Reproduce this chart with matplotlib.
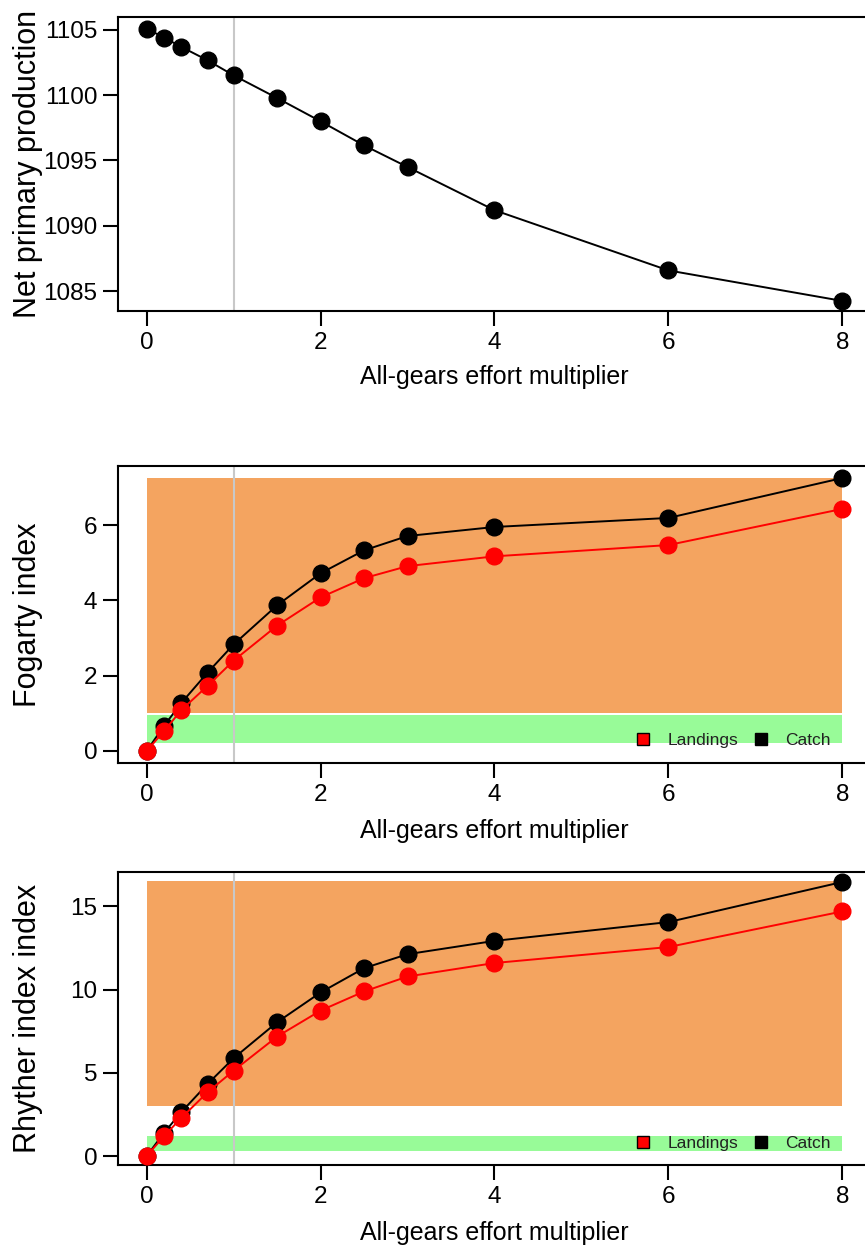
import matplotlib
matplotlib.use("Agg")
import matplotlib.pyplot as plt
from matplotlib.lines import Line2D

plt.rcParams["font.family"] = ["Liberation Sans", "DejaVu Sans"]

# effort multipliers
effort = [0, 0.2, 0.4, 0.7, 1.0, 1.5, 2, 2.5, 3, 4, 6, 8]

# panel 1 - net primary production
npp = [1105.07, 1104.39, 1103.67, 1102.65, 1101.5, 1099.77,
       1097.99, 1096.15, 1094.5, 1091.2, 1086.6, 1084.27]

# panel 2 - Fogarty index
fog_catch = [0, 0.67, 1.28, 2.08, 2.83, 3.87, 4.72, 5.33, 5.71, 5.95, 6.19, 7.25]
fog_land = [0, 0.53, 1.09, 1.73, 2.40, 3.33, 4.08, 4.59, 4.91, 5.17, 5.47, 6.43]
fog_green = (0.2, 0.95)
fog_orange = (1.0, 7.25)

# panel 3 - Rhyther index
ryt_catch = [0, 1.4, 2.65, 4.33, 5.88, 8.04, 9.83, 11.29, 12.13, 12.93, 14.06, 16.47]
ryt_land = [0, 1.2, 2.3, 3.83, 5.13, 7.18, 8.74, 9.89, 10.79, 11.6, 12.56, 14.7]
ryt_green = (0.3, 1.2)
ryt_orange = (3.0, 16.5)

xticks = [0, 2, 4, 6, 8]
baseline = 1.0

W, H = 865, 1245
fig = plt.figure(figsize=(W / 100, H / 100), dpi=100)


def make_axes(top, bottom):
    left, right = 118, 871
    return fig.add_axes([left / W, 1 - bottom / H, (right - left) / W, (bottom - top) / H])


def style(ax, ylabel, xlab_y):
    ax.set_xlim(-0.33, 8.33)
    ax.set_xticks(xticks)
    ax.tick_params(direction="out", length=11, width=1.5, labelsize=17.5, pad=4)
    for s in ax.spines.values():
        s.set_linewidth(1.5)
    ax.set_xlabel("All-gears effort multiplier", fontsize=18)
    ax.set_ylabel(ylabel, fontsize=22)
    ax.yaxis.set_label_coords(-0.1, 0.5)
    ax.xaxis.set_label_coords(0.5, xlab_y)
    ax.axvline(baseline, color="#c8c8c8", lw=1.5, zorder=1)


def legend(ax, y):
    handles = [
        Line2D([], [], ls="none", marker="s", ms=9, mfc="red", mec="black", mew=1),
        Line2D([], [], ls="none", marker="s", ms=9, mfc="black", mec="black", mew=1),
    ]
    ax.legend(handles, ["Landings", "Catch"], loc="center right",
              bbox_to_anchor=(0.946, y), ncol=2, frameon=False, fontsize=12.5,
              handlelength=1.0, handletextpad=0.9, columnspacing=0.8,
              borderpad=0, borderaxespad=0, labelcolor="#222222")


# panel 1
ax1 = make_axes(17, 311)
ax1.plot(effort, npp, color="black", lw=1.4, marker="o", ms=12, zorder=3)
ax1.set_ylim(1083.5, 1105.96)
ax1.set_yticks([1085, 1090, 1095, 1100, 1105])
style(ax1, "Net primary production", -0.185)

# panel 2
ax2 = make_axes(466, 763)
ax2.fill_between([0, 8], *fog_orange, color="#F4A460", lw=0, zorder=0)
ax2.fill_between([0, 8], *fog_green, color="#98FB98", lw=0, zorder=0)
ax2.plot(effort, fog_catch, color="black", lw=1.4, marker="o", ms=12, zorder=3)
ax2.plot(effort, fog_land, color="red", lw=1.4, marker="o", ms=12, zorder=4)
ax2.set_ylim(-0.32, 7.57)
ax2.set_yticks([0, 2, 4, 6])
style(ax2, "Fogarty index", -0.19)
legend(ax2, 0.077)

# panel 3
ax3 = make_axes(872, 1165)
ax3.fill_between([0, 8], *ryt_orange, color="#F4A460", lw=0, zorder=0)
ax3.fill_between([0, 8], *ryt_green, color="#98FB98", lw=0, zorder=0)
ax3.plot(effort, ryt_catch, color="black", lw=1.4, marker="o", ms=12, zorder=3)
ax3.plot(effort, ryt_land, color="red", lw=1.4, marker="o", ms=12, zorder=4)
ax3.set_ylim(-0.54, 17.07)
ax3.set_yticks([0, 5, 10, 15])
style(ax3, "Rhyther index index", -0.19)
legend(ax3, 0.072)

fig.savefig("out.png", dpi=100)
